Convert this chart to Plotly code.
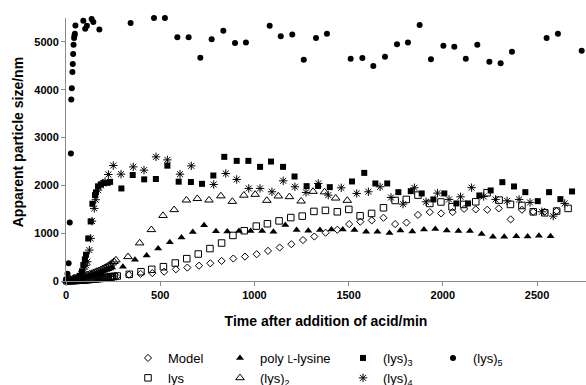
import plotly.graph_objects as go

# ---------------- data ----------------
model_x = [5, 15, 25, 35, 45, 55, 65, 75, 85, 95, 105, 115, 125, 135, 145, 155, 165, 175, 185, 195, 205, 215, 225, 235, 245, 255,
           269, 334, 396, 458, 521, 583, 644, 706, 766, 826, 888, 950, 1012, 1072, 1134, 1196, 1258, 1318, 1378, 1440, 1503,
           1562, 1623, 1685, 1747, 1807, 1868, 1931, 1991, 2052, 2113, 2175, 2236, 2297, 2360, 2420, 2480, 2540, 2604]
model_y = [2, 3, 5, 6, 8, 10, 12, 14, 16, 18, 20, 23, 26, 29, 32, 35, 38, 42, 46, 50, 54, 58, 63, 68, 74, 80,
           90, 130, 150, 165, 194, 244, 280, 320, 370, 420, 470, 510, 560, 630, 700, 770, 856, 930, 1010, 1072, 1190,
           1240, 1267, 1322, 1190, 1222, 1382, 1440, 1413, 1440, 1508, 1497, 1490, 1518, 1288, 1490, 1447, 1447, 1465]

lys_x = [5, 15, 25, 35, 45, 55, 65, 75, 85, 95, 105, 115, 125, 135, 145, 155, 165, 175, 185, 195, 205, 215, 225, 235, 245, 255,
         272, 336, 398, 455, 517, 580, 641, 702, 764, 826, 886, 946, 1010, 1069, 1131, 1193, 1254, 1316, 1377, 1440, 1501,
         1561, 1622, 1685, 1747, 1806, 1868, 1931, 1990, 2049, 2111, 2175, 2235, 2299, 2359, 2420, 2480, 2541, 2604, 2665]
lys_y = [2, 4, 6, 8, 10, 12, 15, 18, 21, 24, 27, 30, 34, 38, 42, 46, 50, 55, 60, 65, 70, 75, 80, 86, 92, 98,
         104, 140, 194, 244, 299, 376, 467, 564, 678, 794, 953, 1051, 1148, 1197, 1257, 1326, 1357, 1455, 1476, 1447, 1497,
         1363, 1413, 1531, 1684, 1706, 1796, 1622, 1653, 1552, 1601, 1656, 1845, 1691, 1601, 1580, 1447, 1426, 1462, 1518]

poly_x = [5, 15, 25, 35, 45, 55, 65, 75, 85, 95, 105, 115, 125, 135, 145, 155, 165, 175, 185, 195, 205, 215, 225, 235, 245,
          302, 366, 428, 489, 551, 613, 673, 733, 796, 856, 918, 980, 1041, 1101, 1164, 1224, 1286, 1348, 1409, 1469,
          1531, 1593, 1653, 1717, 1775, 1838, 1900, 1960, 2021, 2083, 2144, 2206, 2266, 2326, 2390, 2450, 2510, 2572]
poly_y = [5, 10, 15, 22, 30, 38, 46, 55, 64, 74, 84, 95, 106, 118, 130, 143, 156, 170, 184, 199, 214, 230, 246, 262, 280,
          299, 445, 535, 680, 810, 908, 1023, 1165, 1040, 1034, 1047, 1047, 1047, 1030, 1172, 1068, 1051, 1065, 1079, 1079,
          1065, 1030, 1030, 1002, 1058, 1037, 1079, 1086, 1058, 1044, 1044, 981, 925, 925, 936, 933, 946, 936]

lys2_x = [5, 15, 25, 35, 45, 55, 65, 75, 85, 95, 105, 115, 125, 135, 145, 155, 165, 175, 185, 195, 205, 215, 225, 235, 245,
          255, 265, 329, 391, 453, 515, 574, 639, 697, 759, 822, 883, 944, 1004, 1066, 1127, 1186, 1248, 1311, 1372, 1431, 1493]
lys2_y = [10, 20, 30, 40, 50, 60, 70, 80, 95, 105, 115, 130, 145, 155, 170, 185, 200, 215, 235, 255, 275, 295, 320, 345, 375,
          405, 438, 507, 794, 1072, 1368, 1490, 1691, 1722, 1691, 1778, 1663, 1792, 1810, 1684, 1775, 1761, 1670, 1872, 1862,
          1732, 1684]

lys3_x = [5, 15, 25, 35, 45, 55, 65, 75, 85, 92, 100, 106, 118, 131, 140, 154, 159, 170, 185, 200, 221, 234,
          294, 354, 415, 477, 538, 598, 663, 722, 782, 840, 906, 968, 1030, 1088, 1152, 1213, 1277, 1338, 1400,
          1518, 1583, 1642, 1705, 1764, 1830, 1888, 1950, 2008, 2072, 2134, 2194, 2254, 2316, 2378, 2438, 2504,
          2564, 2624, 2686]
lys3_y = [10, 15, 20, 25, 35, 50, 70, 110, 200, 334, 450, 550, 890, 1245, 1615, 1796, 1852, 1980, 2020, 2050, 2053, 2073,
          1935, 2216, 2126, 2133, 2412, 2077, 2070, 2032, 2206, 2596, 2512, 2512, 2387, 2498, 2387, 2185, 1984, 1987, 1963,
          2082, 2261, 2040, 2040, 1858, 1879, 1831, 1706, 1831, 1622, 1622, 1789, 1894, 2067, 1977, 1858, 1670,
          1858, 1712, 1873]

lys4_x = [5, 20, 40, 60, 80, 95, 106, 113, 124, 131, 138, 150, 158, 170, 185, 198, 207, 225, 251,
          292, 357, 414, 478, 538, 605, 665, 784, 848, 906, 970, 1030, 1093, 1153, 1215, 1274, 1339, 1392, 1461,
          1543, 1605, 1667, 1725, 1789, 1849, 1911, 1972, 2033, 2094, 2153, 2217, 2280, 2341, 2405, 2463, 2526,
          2586, 2647]
lys4_y = [20, 30, 50, 80, 150, 250, 330, 403, 647, 891, 1253, 1518, 1700, 1900, 2000, 2040, 2073, 2227, 2415,
          2234, 2387, 2318, 2596, 2533, 2234, 2408, 2019, 2248, 2123, 1936, 1936, 1866, 2095, 1970, 1852, 2040, 1796, 1949,
          1831, 1866, 1970, 1747, 1608, 1949, 1656, 1838, 1706, 1761, 1952, 1768, 1706, 1677, 1706, 1643, 1447,
          1357, 1622]

lys5_x = [3, 8, 14, 20, 26, 28, 31, 34, 36, 38, 40, 43, 45, 47, 50, 92, 102, 111, 136, 145, 177, 343, 467, 525,
          591, 651, 713, 773, 835, 897, 955, 1081, 1140, 1201, 1262, 1327, 1385, 1511, 1573, 1631, 1693, 1757, 1815,
          1877, 1937, 2003, 2061, 2122, 2183, 2247, 2307, 2367, 2551, 2611, 2737]
lys5_y = [40, 150, 370, 1225, 2666, 3794, 4030, 4370, 4537, 4746, 4942, 5080, 5135, 5170, 5345, 5443, 5276, 5339, 5477,
          5415, 5262, 5394, 5498, 5498, 5095, 5095, 4671, 5053, 5235, 4976, 4990, 5339, 5116, 5157, 4629, 5080, 5172,
          4650, 4664, 4496, 4692, 4949, 4990, 5352, 4636, 4921, 4900, 4650, 4942, 4587, 4552, 4796, 5080, 5172, 4817]

x_ticks = [0, 500, 1000, 1500, 2000, 2500]
y_ticks = [0, 1000, 2000, 3000, 4000, 5000]

FONT = "Liberation Sans, Arial, sans-serif"
BLACK = "black"
AXIS = "#8a8a8a"

series = [
    # name, x, y, symbol, size, legend
    ("Model", model_x, model_y, "diamond-open", 5.5, "legend"),
    ("lys", lys_x, lys_y, "square-open", 6.5, "legend"),
    ("poly <span style='font-size:10px'>L</span>-lysine", poly_x, poly_y, "triangle-up", 7, "legend2"),
    ("(lys)<sub>2</sub>", lys2_x, lys2_y, "triangle-up-open", 7.5, "legend2"),
    ("(lys)<sub>3</sub>", lys3_x, lys3_y, "square", 6, "legend3"),
    ("(lys)<sub>4</sub>", lys4_x, lys4_y, "asterisk-open", 7, "legend3"),
    ("(lys)<sub>5</sub>", lys5_x, lys5_y, "circle", 6, "legend4"),
]

fig = go.Figure()
for name, xs, ys, sym, size, leg in series:
    fig.add_trace(go.Scatter(
        x=xs, y=ys, mode="markers", name=name, legend=leg,
        cliponaxis=False,
        marker=dict(symbol=sym, size=size, color=BLACK,
                    line=dict(color=BLACK, width=1 if "open" in sym else 0)),
    ))

legend_common = dict(xref="container", yref="container", xanchor="left", yanchor="top",
                     orientation="v", bgcolor="rgba(0,0,0,0)",
                     font=dict(family=FONT, size=13, color=BLACK))
ly = 1 - 343 / 385
title_font = dict(family=FONT, size=14, weight="bold", color=BLACK)
fig.update_layout(
    width=586, height=385,
    margin=dict(l=66, r=0, t=17.5, b=104, autoexpand=False),
    plot_bgcolor="white", paper_bgcolor="white",
    font=dict(family=FONT, color=BLACK),
    showlegend=True,
    legend=dict(x=128 / 586, y=ly, **legend_common),
    legend2=dict(x=220 / 586, y=ly, **legend_common),
    legend3=dict(x=343 / 586, y=ly, **legend_common),
    legend4=dict(x=433 / 586, y=ly, **legend_common),
    xaxis=dict(range=[0, 2760], tickvals=x_ticks, showgrid=False, zeroline=False,
               showline=True, linecolor=AXIS, linewidth=1,
               ticks="outside", ticklen=4, tickcolor=AXIS,
               tickfont=dict(family=FONT, size=11, weight="bold", color=BLACK),
               title=dict(text="Time after addition of acid/min", font=title_font)),
    yaxis=dict(range=[0, 5500], tickvals=y_ticks, showgrid=False, zeroline=False,
               showline=True, linecolor=AXIS, linewidth=1,
               ticks="outside", ticklen=4, tickcolor=AXIS,
               tickfont=dict(family=FONT, size=11, weight="bold", color=BLACK)),
    annotations=[dict(text="Apparent particle size/nm", xref="paper", yref="paper",
                      x=(18 - 66) / 520, y=(281 - 142) / 263.5, xanchor="center", yanchor="middle",
                      textangle=-90, showarrow=False, font=title_font)],
)

fig.write_html("out.html")
